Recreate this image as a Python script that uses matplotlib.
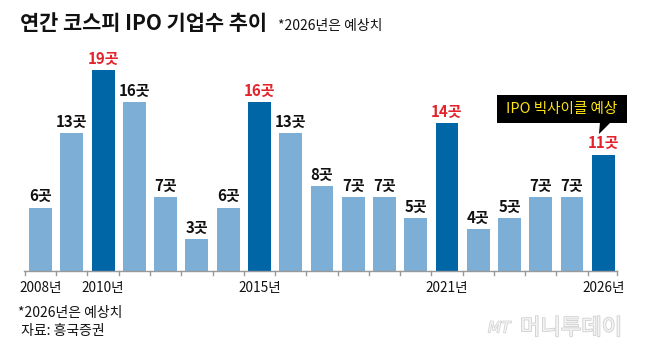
import matplotlib
matplotlib.use("Agg")
import matplotlib.pyplot as plt
import matplotlib.patheffects as pe
from matplotlib.patches import Polygon, Rectangle

plt.rcParams['font.family'] = ['Noto Sans CJK KR', 'DejaVu Sans']

years = list(range(2008, 2027))
values = [6, 13, 19, 16, 7, 3, 6, 16, 13, 8, 7, 7, 5, 14, 4, 5, 7, 7, 11]
highlight_years = [2010, 2015, 2021, 2026]
shown_year_labels = [2008, 2010, 2015, 2021, 2026]
unit = "곳"
title = "연간 코스피 IPO 기업수 추이"
subtitle = "*2026년은 예상치"
callout = "IPO 빅사이클 예상"
notes = ["*2026년은 예상치", " 자료: 흥국증권"]

LIGHT = "#7caed6"
DARK = "#0066a6"
RED = "#e3222b"

W, H = 654, 354
fig = plt.figure(figsize=(W / 100, H / 100), dpi=100)
fig.patch.set_facecolor("white")

# axes in pixel layout
left_px, right_px, base_px = 24, 618, 271
ax = fig.add_axes([left_px / W, (H - base_px) / H, (right_px - left_px) / W, 264.5 / H])
ax.set_xlim(-0.53, len(years) - 0.53)
ax.set_ylim(0, 25)
ax.axis("off")

xs = list(range(len(years)))
colors = [DARK if y in highlight_years else LIGHT for y in years]
ax.bar(xs, values, width=0.73, color=colors, zorder=2)

for x, v, y in zip(xs, values, years):
    c = RED if y in highlight_years else "#111111"
    ax.text(x, v + 0.3, f"{v}{unit}", ha="center", va="bottom", fontsize=10.8,
            fontweight="bold", color=c)

# baseline and ticks
ax.plot([-0.53, len(years) - 0.55], [0, 0], color="#999999", lw=1.0, clip_on=False, zorder=3)
tick_pos = [i - 0.5 for i in range(len(years))] + [len(years) - 0.55]
for t in tick_pos:
    ax.plot([t, t], [0, -0.4], color="#999999", lw=1.0, clip_on=False)

for y in shown_year_labels:
    i = years.index(y)
    ax.text(i, -0.9, f"{y}년", ha="center", va="top", fontsize=9.8, color="#111111")

# title
fig.text(20 / W, 1 - 24 / H, title, fontsize=15, fontweight="bold", va="center", ha="left", color="#111111")
fig.text(278 / W, 1 - 26 / H, subtitle, fontsize=10, va="center", ha="left", color="#111111")

# callout box
bx0, bx1, by0, by1 = 497, 627, 95, 123
fig.patches.append(Rectangle((bx0 / W, 1 - by1 / H), (bx1 - bx0) / W, (by1 - by0) / H,
                             transform=fig.transFigure, facecolor="black", edgecolor="none"))
fig.patches.append(Polygon([(600 / W, 1 - 122 / H), (611 / W, 1 - 122 / H), (599 / W, 1 - 134 / H)],
                           closed=True, transform=fig.transFigure, facecolor="black", edgecolor="none"))
fig.text((bx0 + bx1) / 2 / W, 1 - (by0 + by1) / 2 / H, callout, fontsize=10.5, color="#ffe512",
         ha="center", va="center")

# footnotes
fig.text(18 / W, 1 - 313 / H, notes[0], fontsize=10, va="center", ha="left", color="#111111")
fig.text(18 / W, 1 - 331 / H, notes[1], fontsize=10, va="center", ha="left", color="#111111")

# watermark
wm = fig.text(520 / W, 1 - 328 / H, "머니투데이", fontsize=16, color="#f4f4f4", va="center", ha="left",
              fontweight="light")
wm.set_path_effects([pe.withStroke(linewidth=1.2, foreground="#cfcfcf")])
wm2 = fig.text(488 / W, 1 - 328 / H, "MT", fontsize=11, color="#f4f4f4", va="center", ha="left",
               style="italic", family="DejaVu Sans")
wm2.set_path_effects([pe.withStroke(linewidth=1.0, foreground="#cfcfcf")])

fig.savefig("out.png", dpi=100)
